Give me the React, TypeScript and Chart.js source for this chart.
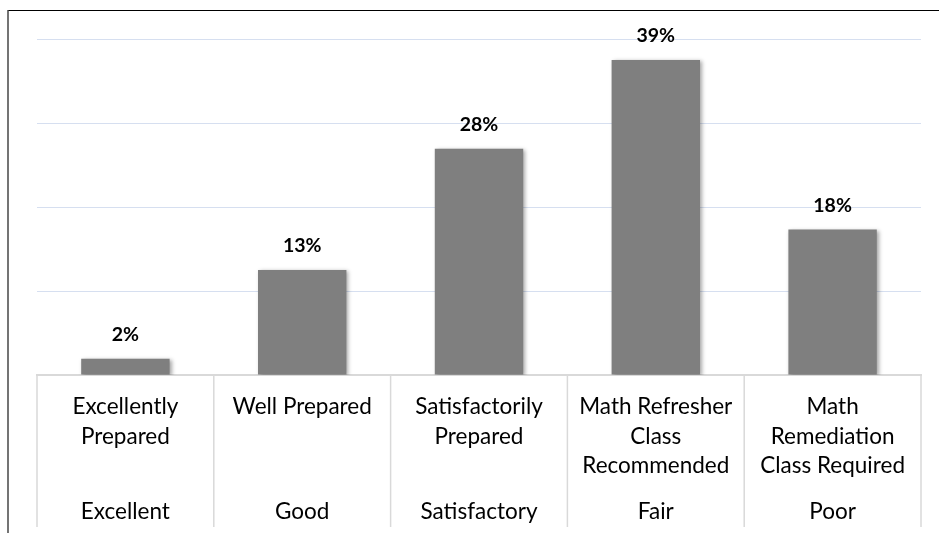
import React, { useEffect, useRef } from "react";
import { Chart, registerables } from "chart.js";

Chart.register(...registerables);

// ---- data ----
const categoryLines: string[][] = [
  ["Excellently", "Prepared"],
  ["Well Prepared"],
  ["Satisfactorily", "Prepared"],
  ["Math Refresher", "Class", "Recommended"],
  ["Math", "Remediation", "Class Required"],
];
const grades: string[] = ["Excellent", "Good", "Satisfactory", "Fair", "Poor"];
const percentages: number[] = [2, 13, 28, 39, 18];
const gridStep = 10.4;
const axisMax = 41.6;

const FONT = "Lato, 'Open Sans', 'Noto Sans', sans-serif";

export default function App() {
  const canvasRef = useRef<HTMLCanvasElement | null>(null);

  useEffect(() => {
    const canvas = canvasRef.current;
    if (!canvas) return;

    const framePlugin = {
      id: "frame",
      beforeDraw(chart: any) {
        const ctx = chart.ctx;
        ctx.save();
        ctx.fillStyle = "#ffffff";
        ctx.fillRect(0, 0, chart.width, chart.height);
        ctx.fillStyle = "#000000";
        ctx.fillRect(8, 10, chart.width - 8, 1);
        ctx.fillStyle = "#474747";
        ctx.fillRect(7.25, 10, 1.5, chart.height - 10);
        ctx.restore();
      },
    };

    const barExtras = {
      id: "barExtras",
      beforeDatasetsDraw(chart: any) {
        const ctx = chart.ctx;
        ctx.save();
        ctx.shadowColor = "rgba(0,0,0,0.35)";
        ctx.shadowBlur = 4;
        ctx.shadowOffsetX = 2;
        ctx.shadowOffsetY = 1;
      },
      afterDatasetsDraw(chart: any) {
        const ctx = chart.ctx;
        ctx.restore();
        const meta = chart.getDatasetMeta(0);
        ctx.save();
        ctx.fillStyle = "#000000";
        ctx.font = `bold 19.5px ${FONT}`;
        ctx.textAlign = "center";
        ctx.textBaseline = "alphabetic";
        meta.data.forEach((bar: any, i: number) => {
          ctx.fillText(`${percentages[i]}%`, bar.x, bar.y - 18);
        });
        ctx.restore();
      },
    };

    const separators = {
      id: "separators",
      afterDraw(chart: any) {
        const xs = chart.scales.x;
        const x2 = chart.scales.x2;
        const ctx = chart.ctx;
        const n = grades.length;
        const half = (xs.getPixelForTick(1) - xs.getPixelForTick(0)) / 2;
        ctx.save();
        ctx.strokeStyle = "#d9d9d9";
        ctx.lineWidth = 1.5;
        for (let i = 0; i <= n; i++) {
          const px = i < n ? xs.getPixelForTick(i) - half : xs.getPixelForTick(n - 1) + half;
          ctx.beginPath();
          ctx.moveTo(px, xs.top);
          ctx.lineTo(px, x2.bottom);
          ctx.stroke();
        }
        ctx.restore();
      },
    };

    const chart = new Chart(canvas, {
      type: "bar",
      data: {
        labels: grades,
        datasets: [
          {
            data: percentages,
            backgroundColor: "#7f7f7f",
            borderWidth: 0,
            barPercentage: 0.5,
            categoryPercentage: 1,
            xAxisID: "x",
            yAxisID: "y",
          },
        ],
      },
      options: {
        responsive: false,
        animation: false,
        devicePixelRatio: 1,
        layout: { padding: { left: 37, right: 18, top: 39, bottom: 6 } },
        plugins: {
          legend: { display: false },
          tooltip: { enabled: false },
          title: { display: false },
        },
        scales: {
          x: {
            type: "category",
            labels: categoryLines as any,
            position: "bottom",
            weight: 0,
            offset: true,
            grid: { display: false, drawTicks: false },
            border: { display: true, color: "#d9d9d9", width: 2 },
            ticks: {
              padding: 17,
              color: "#000000",
              maxRotation: 0,
              autoSkip: false,
              font: { family: FONT, size: 22.5, lineHeight: "29.5px" as any },
            },
            afterFit: (s: any) => {
              s.height = 105;
            },
          },
          x2: {
            type: "category",
            labels: grades,
            position: "bottom",
            weight: 1,
            offset: true,
            grid: { display: false, drawTicks: false },
            border: { display: false },
            ticks: {
              padding: 17,
              color: "#000000",
              maxRotation: 0,
              autoSkip: false,
              font: { family: FONT, size: 22.5, lineHeight: "29.5px" as any },
            },
            afterFit: (s: any) => {
              s.height = 47;
            },
          },
          y: {
            min: 0,
            max: axisMax,
            ticks: { display: false, stepSize: gridStep },
            grid: {
              drawTicks: false,
              color: (c: any) => (c.tick && c.tick.value === 0 ? "rgba(0,0,0,0)" : "#d6dff0"),
              lineWidth: 1,
            },
            border: { display: false },
          },
        },
      } as any,
      plugins: [framePlugin, barExtras, separators],
    });

    return () => {
      chart.destroy();
    };
  }, []);

  return (
    <div style={{ position: "fixed", left: 0, top: 0, width: 939, height: 533, background: "#fff" }}>
      <canvas ref={canvasRef} width={939} height={533} style={{ display: "block", width: 939, height: 533 }} />
    </div>
  );
}
